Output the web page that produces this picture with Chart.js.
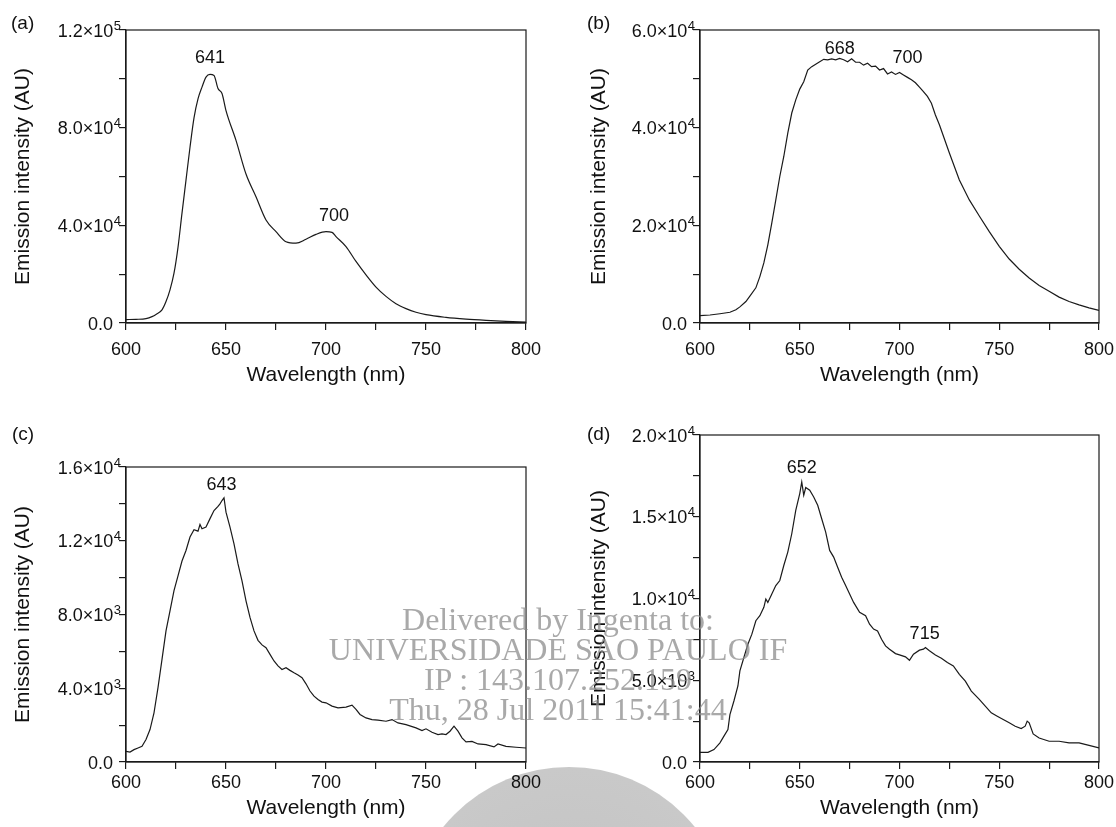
<!DOCTYPE html>
<html>
<head>
<meta charset="utf-8">
<script src="https://cdn.jsdelivr.net/npm/chart.js@4.4.1/dist/chart.umd.min.js"></script>
<style>
html,body{margin:0;padding:0;background:#fff;}
#page{position:relative;width:1116px;height:827px;overflow:hidden;font-family:"Liberation Sans",Arial,sans-serif;color:#111;}
#page canvas{position:absolute;}
.tag{position:absolute;font-size:19px;line-height:20px;}
#blob{position:absolute;left:407px;top:767px;width:324px;height:324px;border-radius:50%;
  background:radial-gradient(circle at 50% 50%,#c2c2c2 0%,#c9c9c9 70%,#d6d6d6 92%,rgba(235,235,235,0.6) 100%);}
#wm{position:absolute;left:258px;top:604px;width:600px;text-align:center;white-space:nowrap;pointer-events:none;
  font:32px/30px "Liberation Serif","Times New Roman",serif;color:rgba(140,140,140,0.75);}
</style>
</head>
<body>
<div id="page">
  <div id="blob"></div>
  <canvas id="cA" width="556" height="400" style="left:0;top:0"></canvas>
  <canvas id="cB" width="540" height="400" style="left:576px;top:0"></canvas>
  <canvas id="cC" width="556" height="427" style="left:0;top:400px"></canvas>
  <canvas id="cD" width="540" height="427" style="left:576px;top:400px"></canvas>
  <div class="tag" style="left:11px;top:13px">(a)</div>
  <div class="tag" style="left:587px;top:13px">(b)</div>
  <div class="tag" style="left:12px;top:424px">(c)</div>
  <div class="tag" style="left:587px;top:424px">(d)</div>
  <div id="wm">Delivered by Ingenta to:<br>UNIVERSIDADE SAO PAULO IF<br>IP : 143.107.252.159<br>Thu, 28 Jul 2011 15:41:44</div>
</div>
<script>
/* 发射光谱 (a)-(d) */
const wlA  = [600,605,610,613,615,618,620,622,624,626,628,630,632,634,636,638,640,642,644,646,648,650,655,660,665,670,675,680,685,690,695,700,703,705,710,715,720,725,730,735,740,745,750,760,770,780,790,800];
const intA = [1400,1500,1800,2600,3500,5400,8800,13600,20400,31000,45000,58500,72000,84000,91800,96600,100700,101800,101400,96000,94000,87000,74800,61000,51700,42200,37400,33300,32700,34300,36300,37400,37100,35400,31300,25200,19700,14700,10900,7900,5900,4400,3400,2300,1600,1100,700,400];

const wlB  = [600,605,610,615,618,620,623,625,628,630,632,634,636,638,640,642,644,646,648,650,652,654,656,658,660,662,664,666,668,670,672,674,676,678,680,682,684,686,688,690,692,694,696,698,700,702,704,706,708,710,712,714,716,718,720,725,730,735,740,745,750,755,760,765,770,775,780,785,790,795,800];
const intB = [1500,1640,1900,2200,2700,3300,4400,5500,7200,9500,12300,16000,20500,25200,30000,34100,38900,43000,45700,47900,49400,51800,52500,53000,53500,54000,53900,54100,53900,54200,53900,53500,54100,53400,53400,52800,53200,52500,52600,51800,52100,51000,51400,50900,51300,50800,50300,49800,49200,48300,47400,46400,45000,42600,40600,34800,29300,25200,21900,18700,15700,13100,11000,9200,7700,6500,5300,4400,3700,3100,2600];

const wlC  = [600,602,604,606,608,610,612,614,616,618,620,622,624,626,628,630,632,634,636,637,638,640,642,644,646,647,648,649,650,652,654,656,658,660,662,664,666,668,670,672,674,676,678,680,682,684,686,688,690,692,694,696,698,700,703,706,710,713,715,717,720,723,726,730,733,736,740,745,748,750,753,756,758,760,762,764,766,768,770,773,776,780,784,786,790,795,800];
const intC = [580,540,670,760,850,1220,1760,2670,4030,5570,7110,8200,9290,10100,10900,11470,12200,12600,12520,12880,12650,12740,13200,13640,13860,14000,14180,14330,13550,12740,11830,10740,9830,8740,7840,7110,6600,6350,6200,5840,5480,5210,5020,5110,4970,4840,4720,4570,4240,3850,3570,3390,3250,3210,3030,2940,2980,3080,2850,2580,2390,2300,2270,2210,2300,2120,2030,1850,1700,1800,1610,1490,1520,1490,1670,1940,1670,1310,1090,1120,980,940,820,980,850,800,760];

const wlD  = [600,604,607,610,612,614,615,617,619,620,622,624,626,628,630,632,633,634,636,638,640,642,644,646,648,650,651,652,653,655,657,659,661,663,665,667,669,671,673,675,677,680,683,685,687,689,691,693,695,698,700,703,705,707,710,712,713,715,718,721,724,727,730,733,736,740,743,746,749,752,755,758,761,763,764,765,767,770,775,780,785,790,795,800];
const intD = [590,590,760,1170,1580,1990,2900,3730,4650,5570,6390,7200,7820,8640,8950,9460,9970,9760,10280,10790,11100,12020,12840,13960,15390,16420,17130,16320,16790,16620,16210,15700,14880,14060,12940,12530,11910,11300,10790,10280,9760,9150,8950,8430,8130,8020,7510,7100,6900,6630,6550,6430,6220,6590,6840,6900,7000,6800,6550,6350,6080,5880,5360,4950,4340,3830,3420,3010,2800,2600,2400,2190,2050,2190,2500,2400,1720,1470,1270,1270,1170,1170,1020,860];

// 峰值标注
const notesA = ['641','700'], notesAx = [642,704], notesAy = [108600,43800];
const notesB = ['668','700'], notesBx = [670,704], notesBy = [56200,54200];
const notesC = ['643'],       notesCx = [647.8],   notesCy = [15000];
const notesD = ['652','715'], notesDx = [651,712.6], notesDy = [17950,7820];

const FONT = '"Liberation Sans", Arial, Helvetica, sans-serif';
const INK = '#1a1a1a';

// 纵轴刻度：手绘上标
function drawSciTicks(ctx, y, left, every) {
  ctx.fillStyle = '#111';
  ctx.textAlign = 'right';
  ctx.textBaseline = 'alphabetic';
  y.ticks.forEach(t => {
    const v = t.value;
    if (Math.abs(v % every) > 1e-6) return;
    const py = y.getPixelForValue(v);
    const xr = left - 13;
    if (v === 0) {
      ctx.font = '18px ' + FONT;
      ctx.fillText('0.0', xr, py + 6.5);
      return;
    }
    const e = Math.floor(Math.log10(v) + 1e-9);
    const base = (v / Math.pow(10, e)).toFixed(1) + '×10';
    ctx.font = '13px ' + FONT;
    const ew = ctx.measureText(String(e)).width;
    const xe = left - 5;
    ctx.fillText(String(e), xe, py - 0.5);
    ctx.font = '18px ' + FONT;
    ctx.fillText(base, xe - ew - 0.5, py + 6.5);
  });
}

const framePlugin = {
  id: 'frame',
  afterDraw(chart, args, opts) {
    const {ctx, chartArea: a, scales: {x, y}} = chart;
    ctx.save();
    ctx.strokeStyle = INK; ctx.lineWidth = 1.2;
    ctx.strokeRect(a.left, a.top, a.right - a.left, a.bottom - a.top);
    drawSciTicks(ctx, y, a.left, opts.every);
    ctx.fillStyle = '#111';
    ctx.font = '18px ' + FONT;
    ctx.textAlign = 'center'; ctx.textBaseline = 'middle';
    opts.texts.forEach((t, i) => ctx.fillText(t, x.getPixelForValue(opts.xs[i]), y.getPixelForValue(opts.ys[i])));
    ctx.restore();
  }
};

function panel(id, canvasBox, area, wl, vals, yMax, yStep, yLabelEvery, notes, nx, ny, tickPad, xTitleGap, smooth) {
  const yW = area.l - canvasBox.left;
  const xH = canvasBox.top + canvasBox.h - area.b;
  return new Chart(document.getElementById(id), {
    type: 'line',
    data: {
      datasets: [{
        data: wl.map((w, i) => ({x: w, y: vals[i]})),
        borderColor: INK, borderWidth: 1.2, pointRadius: 0,
        tension: smooth ? 0.35 : 0, cubicInterpolationMode: smooth ? 'monotone' : 'default'
      }]
    },
    options: {
      responsive: false, animation: false,
      layout: { padding: { left: 0, top: area.t - canvasBox.top, right: canvasBox.left + canvasBox.w - area.r, bottom: 0 } },
      plugins: { legend: {display:false}, tooltip: {enabled:false},
        frame: { texts: notes, xs: nx, ys: ny, every: yLabelEvery } },
      scales: {
        x: {
          type: 'linear', min: 600, max: 800,
          afterFit(s) { s.height = xH; s.paddingLeft = 0; s.paddingRight = 0; },
          grid: { drawOnChartArea: false, tickLength: 7, color: INK, tickColor: INK, lineWidth: 1.2 },
          border: { display: true, color: INK, width: 1.2 },
          ticks: { stepSize: 25, autoSkip: false, maxRotation: 0, padding: tickPad, color: '#111', font: {family: FONT, size: 18},
            callback: v => (v % 50 === 0 ? String(v) : '') },
          title: { display: true, text: 'Wavelength (nm)', color: '#111', font: {family: FONT, size: 21}, padding: {top: 0, bottom: xTitleGap} }
        },
        y: {
          min: 0, max: yMax,
          afterFit(s) { s.width = yW; s.paddingTop = 0; s.paddingBottom = 0; },
          grid: { drawOnChartArea: false, tickLength: 7, color: INK, tickColor: INK, lineWidth: 1.2 },
          border: { display: true, color: INK, width: 1.2 },
          ticks: { stepSize: yStep, autoSkip: false, callback: () => '' },
          title: { display: true, text: 'Emission intensity (AU)', color: '#111', font: {family: FONT, size: 21}, padding: {top: 11, bottom: 0} }
        }
      }
    },
    plugins: [framePlugin]
  });
}

panel('cA', {left:0,   top:0,   w:556, h:400}, {l:126, t:30,  r:526,  b:323}, wlA, intA, 120000, 20000, 40000, notesA, notesAx, notesAy, 9, 12, true);
panel('cB', {left:576, top:0,   w:540, h:400}, {l:700, t:30,  r:1099, b:323}, wlB, intB, 60000,  10000, 20000, notesB, notesBx, notesBy, 9, 12, false);
panel('cC', {left:0,   top:400, w:556, h:427}, {l:126, t:467, r:526,  b:762}, wlC, intC, 16000,  2000,  4000,  notesC, notesCx, notesCy, 3, 6, false);
panel('cD', {left:576, top:400, w:540, h:427}, {l:700, t:435, r:1099, b:762}, wlD, intD, 20000,  2500,  5000,  notesD, notesDx, notesDy, 3, 6, false);
</script>
</body>
</html>
